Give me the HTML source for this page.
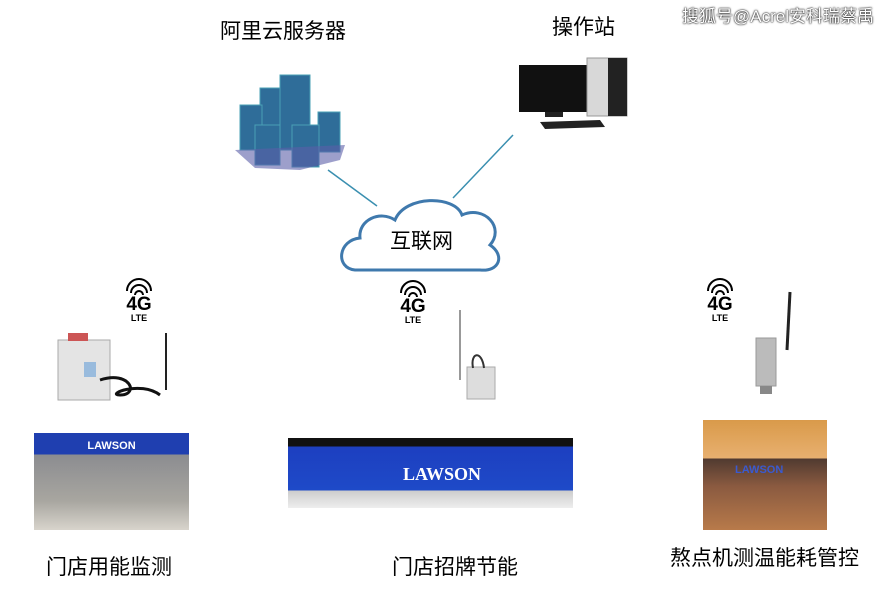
<!DOCTYPE html>
<html><head><meta charset="utf-8"><style>
body{margin:0;background:#fff;width:896px;height:591px;overflow:hidden;position:relative;font-family:"Liberation Sans","Noto Sans CJK SC",sans-serif}
.t{position:absolute;color:#000;white-space:nowrap;line-height:1}
.a{position:absolute}
.g{position:absolute;text-align:center;font-weight:bold;line-height:1}
</style></head><body>
<div class="t" style="left:220px;top:21px;font-size:21px">阿里云服务器</div>
<div class="t" style="left:552px;top:17px;font-size:21px">操作站</div>
<div class="t" style="left:682px;top:8px;font-size:17px;color:#fff;text-shadow:0 0 2px #000,0 0 1px #000">搜狐号@Acrel安科瑞蔡禹</div>
<svg class="a" style="left:0;top:0" width="896" height="591">
<line x1="328" y1="170" x2="377" y2="206" stroke="#3a8fb0" stroke-width="1.5"/>
<line x1="513" y1="135" x2="453" y2="198" stroke="#3a8fb0" stroke-width="1.5"/>
<path d="M355,270 C335,268 338,240 360,238 C358,220 380,210 395,220 C405,195 455,195 462,215 C485,205 505,228 490,245 C505,255 500,272 480,270 Z" fill="#fff" stroke="#3f79ad" stroke-width="3"/>
<g fill="#2f6d99" stroke="#4aa0b5" stroke-width="1">
<rect x="260" y="88" width="20" height="55"/><rect x="280" y="75" width="30" height="75"/>
<rect x="240" y="105" width="22" height="45"/><rect x="318" y="112" width="22" height="40"/>
<rect x="255" y="125" width="25" height="40"/><rect x="292" y="125" width="27" height="42"/>
</g>
<polygon points="235,150 345,145 340,160 300,170 255,168" fill="#5b5fa8" opacity="0.6"/>
<rect x="519" y="65" width="70" height="47" fill="#111"/>
<rect x="545" y="112" width="18" height="5" fill="#222"/>
<rect x="587" y="58" width="40" height="58" fill="#d8d8d8" stroke="#999"/>
<rect x="608" y="58" width="19" height="58" fill="#222"/>
<polygon points="540,122 600,120 605,127 545,129" fill="#222"/>
<rect x="58" y="340" width="52" height="60" fill="#e4e4e4" stroke="#aaa"/>
<rect x="68" y="333" width="20" height="8" fill="#c55"/>
<rect x="84" y="362" width="12" height="15" fill="#9bd"/>
<line x1="166" y1="333" x2="166" y2="390" stroke="#222" stroke-width="2"/>
<path d="M100,380 C130,370 140,395 120,395 C105,395 140,380 160,395" fill="none" stroke="#111" stroke-width="3"/>
<line x1="460" y1="310" x2="460" y2="380" stroke="#333" stroke-width="1"/>
<rect x="467" y="367" width="28" height="32" fill="#ddd" stroke="#aaa"/>
<path d="M473,368 C470,352 482,350 484,368" fill="none" stroke="#333" stroke-width="2"/>
<rect x="756" y="338" width="20" height="48" fill="#bbb" stroke="#999"/>
<line x1="790" y1="292" x2="787" y2="350" stroke="#222" stroke-width="3"/>
<rect x="760" y="386" width="12" height="8" fill="#888"/>
<g fill="none" stroke="#000" stroke-width="2">
<path d="M127,291 a12,12 0 0 1 24,0"/><path d="M131,293 a8,8 0 0 1 16,0"/><path d="M135,295 a4,4 0 0 1 8,0"/>
<path d="M401,293 a12,12 0 0 1 24,0"/><path d="M405,295 a8,8 0 0 1 16,0"/><path d="M409,297 a4,4 0 0 1 8,0"/>
<path d="M708,291 a12,12 0 0 1 24,0"/><path d="M712,293 a8,8 0 0 1 16,0"/><path d="M716,295 a4,4 0 0 1 8,0"/>
</g>
</svg>
<div class="g" style="left:121px;top:295px;width:36px;font-size:19px">4G<div style="font-size:9px">LTE</div></div>
<div class="g" style="left:395px;top:297px;width:36px;font-size:19px">4G<div style="font-size:9px">LTE</div></div>
<div class="g" style="left:702px;top:295px;width:36px;font-size:19px">4G<div style="font-size:9px">LTE</div></div>
<div class="t" style="left:390px;top:231px;font-size:21px">互联网</div>
<div class="a" style="left:34px;top:433px;width:155px;height:97px;background:linear-gradient(#1f3fb0 0,#1f3fb0 22%,#8b8c90 22%,#a8a6a0 70%,#d8d4cc 100%)">
<div style="color:#fff;font-weight:bold;font-size:11px;text-align:center;margin-top:7px">LAWSON</div></div>
<div class="a" style="left:288px;top:438px;width:285px;height:70px;background:linear-gradient(#111 0,#111 12%,#1d3fc0 12%,#1e4ac8 75%,#ccc 75%,#eee 100%)">
<div style="color:#fff;font-weight:bold;font-size:18px;position:absolute;left:115px;top:26px;font-family:'Liberation Serif',serif">LAWSON</div></div>
<div class="a" style="left:703px;top:420px;width:124px;height:110px;background:linear-gradient(#d99a4a 0,#e8b070 35%,#503a30 35%,#8a5a40 60%,#b87a4a 100%)">
<div style="color:#3a5ad0;font-weight:bold;font-size:11px;position:absolute;left:32px;top:44px">LAWSON</div></div>
<div class="t" style="left:46px;top:557px;font-size:21px">门店用能监测</div>
<div class="t" style="left:392px;top:557px;font-size:21px">门店招牌节能</div>
<div class="t" style="left:670px;top:548px;font-size:21px">熬点机测温能耗管控</div>
</body></html>
